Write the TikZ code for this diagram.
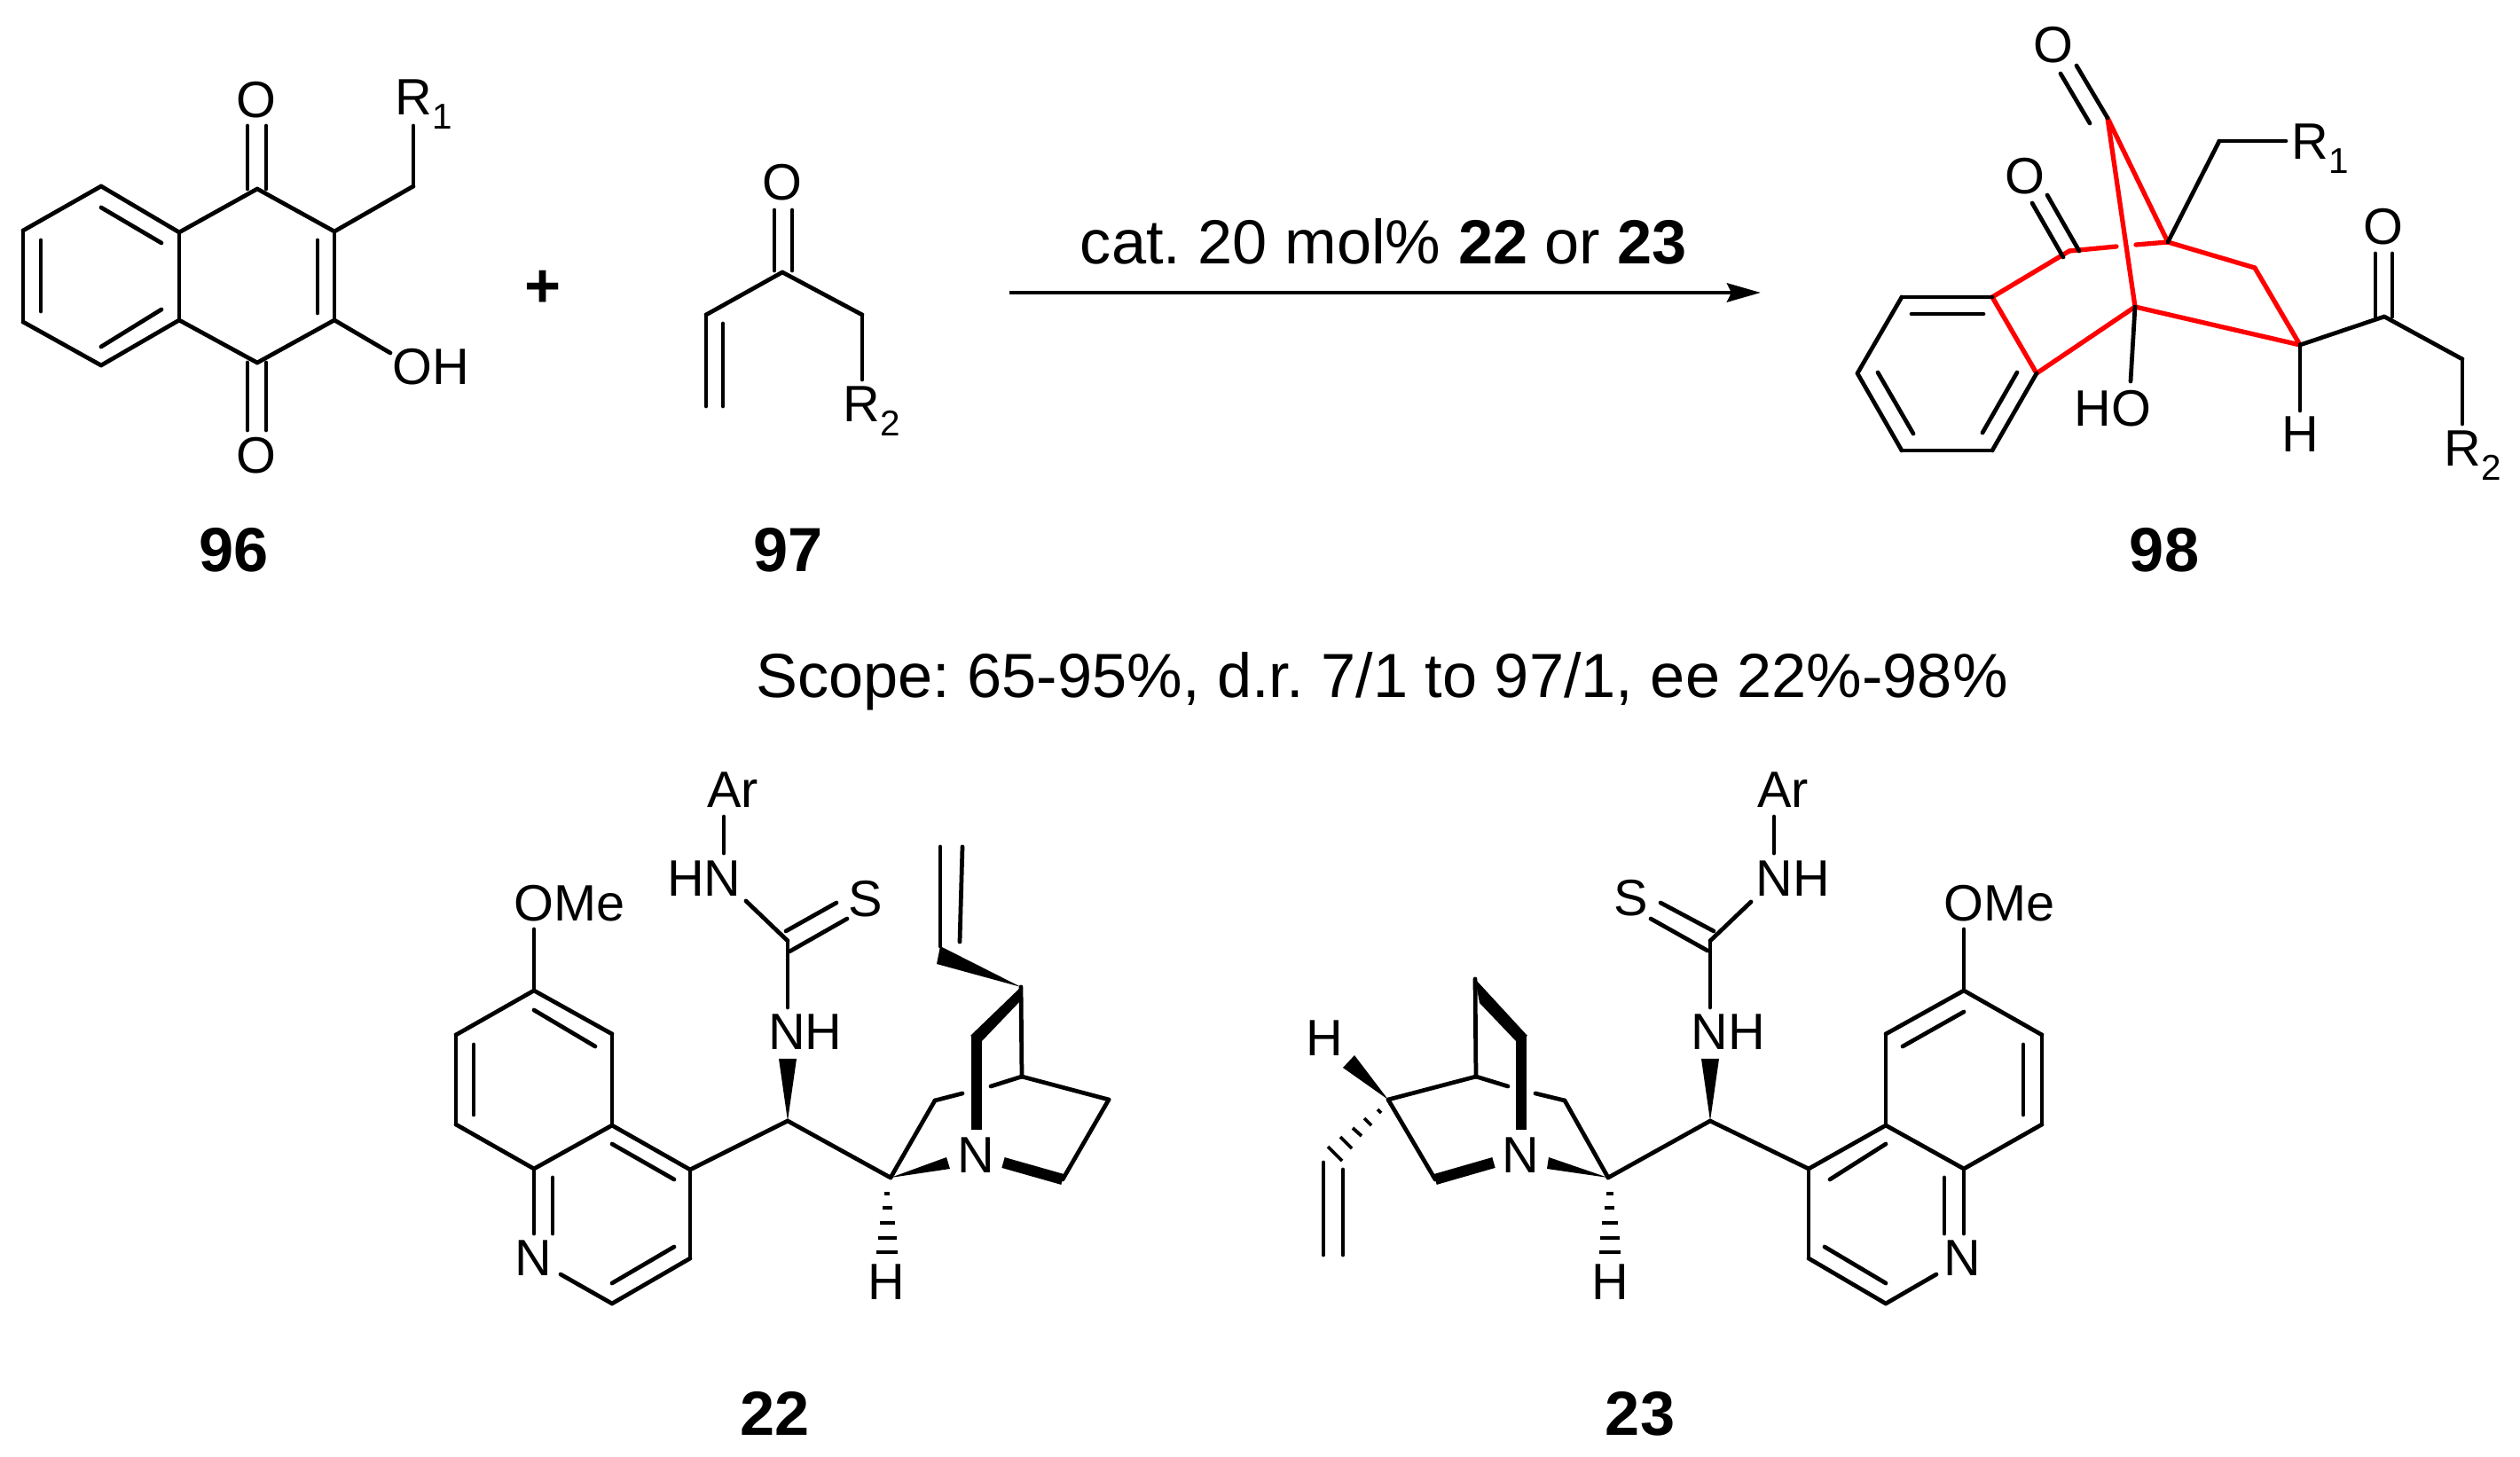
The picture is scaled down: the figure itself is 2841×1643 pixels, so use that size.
\documentclass[tikz,border=0pt]{standalone}
\usepackage{fontspec}
\setmainfont{Liberation Sans}
\frenchspacing
\usetikzlibrary{arrows.meta}
\tikzset{
	atom/.style={inner sep=1pt,font=\fontsize{16.4pt}{18pt}\selectfont},
	rlabel/.style={atom,inner sep=0pt,anchor=base west},
	cmpd/.style={inner sep=1pt,font=\fontsize{20pt}{22pt}\selectfont\bfseries},
	plain/.style={inner sep=1pt,font=\fontsize{20pt}{22pt}\selectfont},
	bond/.style={draw=black,line width=1.35pt,line cap=round,line join=round},
	redbond/.style={draw=red,line width=1.5pt,line cap=round,line join=round},
	boldbond/.style={draw=black,line width=3.5pt},
	wedge/.style={fill=black,draw=none},
	hash/.style={draw=black,line width=1.1pt},
}
\newcommand{\subs}[1]{\raisebox{-4.3pt}{\fontsize{11.5pt}{12pt}\selectfont #1}}

\begin{document}
\begin{tikzpicture}[x=0.01cm,y=-0.01cm]
	\useasboundingbox (0,0) rectangle (2841,1643);
	% 96
	\coordinate (a1) at (26,260); \coordinate (a2) at (114,210); \coordinate (a3) at (202,262);
	\coordinate (a4) at (202,361); \coordinate (a5) at (114,412); \coordinate (a6) at (26,363);
	\coordinate (a7) at (290,213); \coordinate (a8) at (377,261); \coordinate (a9) at (377,361);
	\coordinate (a10) at (290,409); \coordinate (a11) at (466,210); \coordinate (a12) at (466,142);
	\coordinate (a13) at (440,398);
	\coordinate (i1) at (46,271); \coordinate (i2) at (46,351);
	\coordinate (i3) at (114,234); \coordinate (i4) at (182,274);
	\coordinate (i5) at (114,391); \coordinate (i6) at (182,349);
	\coordinate (i7) at (358,271); \coordinate (i8) at (358,353);
	\coordinate (o1) at (279,142); \coordinate (o2) at (279,213);
	\coordinate (o3) at (300,142); \coordinate (o4) at (300,213);
	\coordinate (o5) at (279,409); \coordinate (o6) at (279,485);
	\coordinate (o7) at (300,409); \coordinate (o8) at (300,485);
	\fill (289,113) node[atom] (Oa) {O};
	\fill (289,514) node[atom] (Ob) {O};
	\fill (445,130) node[rlabel] (Ra) {R\subs{1}};
	\fill (486,414) node[atom] (OHa) {OH};
	\fill (264,620) node[cmpd] (L96) {96};
	\fill (612,326) node[cmpd] (plus) {+};
	%
	\path (a1) edge[bond] (a2);
	\path (a2) edge[bond] (a3);
	\path (a3) edge[bond] (a4);
	\path (a4) edge[bond] (a5);
	\path (a5) edge[bond] (a6);
	\path (a6) edge[bond] (a1);
	\path (a3) edge[bond] (a7);
	\path (a7) edge[bond] (a8);
	\path (a8) edge[bond] (a9);
	\path (a9) edge[bond] (a10);
	\path (a10) edge[bond] (a4);
	\path (a8) edge[bond] (a11);
	\path (a11) edge[bond] (a12);
	\path (a9) edge[bond] (a13);
	\path (i1) edge[bond] (i2);
	\path (i3) edge[bond] (i4);
	\path (i5) edge[bond] (i6);
	\path (i7) edge[bond] (i8);
	\path (o1) edge[bond] (o2);
	\path (o3) edge[bond] (o4);
	\path (o5) edge[bond] (o6);
	\path (o7) edge[bond] (o8);
	% 97
	\coordinate (b1) at (882,307); \coordinate (b2) at (796,355); \coordinate (b3) at (972,355);
	\coordinate (b4) at (972,428); \coordinate (b5) at (796,458); \coordinate (b6) at (815,365);
	\coordinate (b7) at (815,458);
	\coordinate (o9) at (873,237); \coordinate (o10) at (873,305);
	\coordinate (o11) at (893,237); \coordinate (o12) at (893,305);
	\fill (882,206) node[atom] (Oc) {O};
	\fill (950,476) node[rlabel] (Rb) {R\subs{2}};
	\fill (889,620) node[cmpd] (L97) {97};
	%
	\path (b1) edge[bond] (b2);
	\path (b1) edge[bond] (b3);
	\path (b3) edge[bond] (b4);
	\path (b2) edge[bond] (b5);
	\path (b6) edge[bond] (b7);
	\path (o9) edge[bond] (o10);
	\path (o11) edge[bond] (o12);
	% arrow
	\coordinate (s1) at (1138,330); \coordinate (s2) at (1985,330);
	\fill (1560,272) node[plain] (cat) {cat. 20 mol\% \textbf{22} or \textbf{23}};
	\path (s1) edge[draw=black,line width=1.4pt,-{Stealth[length=10.8pt,width=6pt,inset=1.4pt]}] (s2);
	\fill (1558,768) node[plain] (scope) {Scope: 65-95\%, d.r. 7/1 to 97/1, ee 22\%-98\%};
	% 98
	\coordinate (c1) at (2376,133); \coordinate (c2) at (2444,273); \coordinate (c3) at (2407,346);
	\coordinate (c4) at (2408,276); \coordinate (c5) at (2386,278); \coordinate (c6) at (2333,283);
	\coordinate (c7) at (2246,335); \coordinate (c8) at (2542,302); \coordinate (c9) at (2593,389);
	\coordinate (c10) at (2296,421); \coordinate (c11) at (2144,335); \coordinate (c12) at (2094,421);
	\coordinate (c13) at (2144,508); \coordinate (c14) at (2246,508);
	\coordinate (c15) at (2502,159); \coordinate (c16) at (2577,159);
	\coordinate (c17) at (2402,430); \coordinate (c18) at (2593,463);
	\coordinate (c19) at (2688,357); \coordinate (c20) at (2776,405); \coordinate (c21) at (2776,478);
	\coordinate (j1) at (2155,354); \coordinate (j2) at (2236,354);
	\coordinate (j3) at (2117,420); \coordinate (j4) at (2157,489);
	\coordinate (j5) at (2274,420); \coordinate (j6) at (2235,488);
	\coordinate (o13) at (2341,74); \coordinate (o14) at (2376,133);
	\coordinate (o15) at (2323,83); \coordinate (o16) at (2356,139);
	\coordinate (o17) at (2308,220); \coordinate (o18) at (2344,283);
	\coordinate (o19) at (2291,229); \coordinate (o20) at (2326,290);
	\coordinate (o21) at (2678,286); \coordinate (o22) at (2678,357);
	\coordinate (o23) at (2697,286); \coordinate (o24) at (2697,357);
	\fill (2315,51) node[atom] (Od) {O};
	\fill (2283,199) node[atom] (Oe) {O};
	\fill (2687,256) node[atom] (Of) {O};
	\fill (2583,180) node[rlabel] (Rc) {R\subs{1}};
	\fill (2755,526) node[rlabel] (Rd) {R\subs{2}};
	\fill (2382,461) node[atom] (HOa) {HO};
	\fill (2593,490) node[atom] (Ha) {H};
	\fill (2440,620) node[cmpd] (L98) {98};
	%
	\path (c1) edge[redbond] (c2);
	\path (c1) edge[redbond] (c3);
	\path (c2) edge[redbond] (c4);
	\path (c5) edge[redbond] (c6);
	\path (c6) edge[redbond] (c7);
	\path (c7) edge[redbond] (c10);
	\path (c10) edge[redbond] (c3);
	\path (c3) edge[redbond] (c9);
	\path (c2) edge[redbond] (c8);
	\path (c8) edge[redbond] (c9);
	%
	\path (c11) edge[bond] (c7);
	\path (c11) edge[bond] (c12);
	\path (c12) edge[bond] (c13);
	\path (c13) edge[bond] (c14);
	\path (c14) edge[bond] (c10);
	\path (j1) edge[bond] (j2);
	\path (j3) edge[bond] (j4);
	\path (j5) edge[bond] (j6);
	\path (c2) edge[bond] (c15);
	\path (c15) edge[bond] (c16);
	\path (c3) edge[bond] (c17);
	\path (c9) edge[bond] (c18);
	\path (c9) edge[bond] (c19);
	\path (c19) edge[bond] (c20);
	\path (c20) edge[bond] (c21);
	\path (o13) edge[bond] (o14);
	\path (o15) edge[bond] (o16);
	\path (o17) edge[bond] (o18);
	\path (o19) edge[bond] (o20);
	\path (o21) edge[bond] (o22);
	\path (o23) edge[bond] (o24);
	% 22
	\coordinate (d1) at (602,1117); \coordinate (d2) at (690,1166); \coordinate (d3) at (690,1269);
	\coordinate (d4) at (602,1318); \coordinate (d5) at (514,1268); \coordinate (d6) at (514,1167);
	\coordinate (d7) at (778,1319); \coordinate (d8) at (778,1419); \coordinate (d9) at (690,1470);
	\coordinate (d10) at (632,1437); \coordinate (d11) at (602,1391); \coordinate (d12) at (602,1048);
	\coordinate (k1) at (602,1139); \coordinate (k2) at (671,1180);
	\coordinate (k3) at (534,1178); \coordinate (k4) at (534,1257);
	\coordinate (k5) at (623,1328); \coordinate (k6) at (623,1391);
	\coordinate (k7) at (690,1290); \coordinate (k8) at (760,1330);
	\coordinate (k9) at (690,1447); \coordinate (k10) at (760,1406);
	\coordinate (e1) at (888,1264); \coordinate (e2) at (878,1194); \coordinate (e3) at (898,1194);
	\coordinate (e4) at (888,1136); \coordinate (e5) at (888,1061);
	\coordinate (e6) at (886,1050); \coordinate (e7) at (943,1018);
	\coordinate (e8) at (890,1073); \coordinate (e9) at (955,1036);
	\coordinate (e10) at (841,1016); \coordinate (e11) at (816,962); \coordinate (e12) at (816,921);
	\coordinate (f1) at (1004,1328); \coordinate (f2) at (1067,1305); \coordinate (f3) at (1071,1318);
	\coordinate (f4) at (1054,1241); \coordinate (f5) at (1085,1233); \coordinate (f6) at (1117,1225);
	\coordinate (f7) at (1152,1214); \coordinate (f8) at (1250,1240); \coordinate (f9) at (1198,1330);
	\coordinate (f10) at (1131,1311); \coordinate (f11) at (1101,1168); \coordinate (f12) at (1101,1274);
	\coordinate (f13) at (1151,1113); \coordinate (f14) at (1094,1168); \coordinate (f15) at (1107,1174);
	\coordinate (f16) at (1151,1128);
	\coordinate (f17) at (1060,1067); \coordinate (f18) at (1056,1087);
	\coordinate (f19) at (1060,955); \coordinate (f20) at (1085,955); \coordinate (f21) at (1082,1062);
	\fill (642,1019) node[atom] (OMea) {OMe};
	\fill (601,1419) node[atom] (Na) {N};
	\fill (908,1164) node[atom] (NHa) {NH};
	\fill (794,991) node[atom] (HNa) {HN};
	\fill (826,891) node[atom] (Ara) {Ar};
	\fill (976,1014) node[atom] (Sa) {S};
	\fill (1100,1303) node[atom] (Nb) {N};
	\fill (999,1446) node[atom] (Hb) {H};
	\fill (874,1594) node[cmpd] (L22) {22};
	%
	\path (d1) edge[bond] (d2);
	\path (d2) edge[bond] (d3);
	\path (d3) edge[bond] (d4);
	\path (d4) edge[bond] (d5);
	\path (d5) edge[bond] (d6);
	\path (d6) edge[bond] (d1);
	\path (d3) edge[bond] (d7);
	\path (d7) edge[bond] (d8);
	\path (d8) edge[bond] (d9);
	\path (d9) edge[bond] (d10);
	\path (d4) edge[bond] (d11);
	\path (d1) edge[bond] (d12);
	\path (k1) edge[bond] (k2);
	\path (k3) edge[bond] (k4);
	\path (k5) edge[bond] (k6);
	\path (k7) edge[bond] (k8);
	\path (k9) edge[bond] (k10);
	\path (d7) edge[bond] (e1);
	\path (e1) edge[bond] (f1);
	\path (e4) edge[bond] (e5);
	\path (e6) edge[bond] (e7);
	\path (e8) edge[bond] (e9);
	\path (e5) edge[bond] (e10);
	\path (e11) edge[bond] (e12);
	\path (f1) edge[bond] (f4);
	\path (f4) edge[bond] (f5);
	\path (f6) edge[bond] (f7);
	\path (f7) edge[bond] (f8);
	\path (f8) edge[bond] (f9);
	\path (f13) edge[bond] (f7);
	\path (f17) edge[bond] (f19);
	\path (f20) edge[bond] (f21);
	\path (f9) edge[boldbond] (f10);
	\path (f11) edge[boldbond] (f12);
	%
	\fill[wedge] (e1) -- (e2) -- (e3) -- cycle;
	\fill[wedge] (f1) -- (f2) -- (f3) -- cycle;
	\fill[wedge] (f13) -- (f14) -- (f15) -- (f16) -- cycle;
	\fill[wedge] (f13) -- (f17) -- (f18) -- cycle;
	\draw[hash] (997,1346) -- (1003,1346);
	\draw[hash] (995,1362) -- (1006,1362);
	\draw[hash] (992,1379) -- (1009,1379);
	\draw[hash] (990,1396) -- (1011,1396);
	\draw[hash] (988,1412) -- (1012,1412);
	% 23
	\coordinate (g1) at (2214,1117); \coordinate (g2) at (2126,1166); \coordinate (g3) at (2126,1269);
	\coordinate (g4) at (2214,1318); \coordinate (g5) at (2302,1268); \coordinate (g6) at (2302,1167);
	\coordinate (g7) at (2039,1318); \coordinate (g8) at (2039,1419); \coordinate (g9) at (2126,1470);
	\coordinate (g10) at (2183,1437); \coordinate (g11) at (2214,1391); \coordinate (g12) at (2214,1048);
	\coordinate (m1) at (2214,1141); \coordinate (m2) at (2145,1180);
	\coordinate (m3) at (2281,1178); \coordinate (m4) at (2281,1257);
	\coordinate (m5) at (2192,1328); \coordinate (m6) at (2192,1391);
	\coordinate (m7) at (2126,1290); \coordinate (m8) at (2063,1330);
	\coordinate (m9) at (2126,1447); \coordinate (m10) at (2057,1406);
	\coordinate (n1) at (1928,1264); \coordinate (n2) at (1918,1194); \coordinate (n3) at (1938,1194);
	\coordinate (n4) at (1928,1136); \coordinate (n5) at (1928,1061);
	\coordinate (n6) at (1932,1050); \coordinate (n7) at (1872,1018);
	\coordinate (n8) at (1925,1072); \coordinate (n9) at (1861,1036);
	\coordinate (n10) at (1974,1017); \coordinate (n11) at (2000,962); \coordinate (n12) at (2000,921);
	\coordinate (q1) at (1813,1328); \coordinate (q2) at (1746,1305); \coordinate (q3) at (1744,1318);
	\coordinate (q4) at (1764,1241); \coordinate (q5) at (1731,1233); \coordinate (q6) at (1700,1225);
	\coordinate (q7) at (1664,1214); \coordinate (q8) at (1565,1240); \coordinate (q9) at (1618,1330);
	\coordinate (q10) at (1684,1311); \coordinate (q11) at (1715,1168); \coordinate (q12) at (1715,1274);
	\coordinate (q13) at (1663,1104); \coordinate (q14) at (1709,1174); \coordinate (q15) at (1722,1168);
	\coordinate (q16) at (1668,1131);
	\coordinate (q17) at (1514,1204); \coordinate (q18) at (1527,1190);
	\coordinate (q19) at (1492,1311); \coordinate (q20) at (1492,1415);
	\coordinate (q21) at (1514,1319); \coordinate (q22) at (1514,1415);
	\fill (2254,1019) node[atom] (OMeb) {OMe};
	\fill (2212,1419) node[atom] (Nc) {N};
	\fill (1948,1164) node[atom] (NHb) {NH};
	\fill (2021,991) node[atom] (NHc) {NH};
	\fill (2010,891) node[atom] (Arb) {Ar};
	\fill (1839,1013) node[atom] (Sb) {S};
	\fill (1714,1303) node[atom] (Nd) {N};
	\fill (1815,1446) node[atom] (Hc) {H};
	\fill (1493,1171) node[atom] (Hd) {H};
	\fill (1849,1594) node[cmpd] (L23) {23};
	%
	\path (g1) edge[bond] (g2);
	\path (g2) edge[bond] (g3);
	\path (g3) edge[bond] (g4);
	\path (g4) edge[bond] (g5);
	\path (g5) edge[bond] (g6);
	\path (g6) edge[bond] (g1);
	\path (g3) edge[bond] (g7);
	\path (g7) edge[bond] (g8);
	\path (g8) edge[bond] (g9);
	\path (g9) edge[bond] (g10);
	\path (g4) edge[bond] (g11);
	\path (g1) edge[bond] (g12);
	\path (m1) edge[bond] (m2);
	\path (m3) edge[bond] (m4);
	\path (m5) edge[bond] (m6);
	\path (m7) edge[bond] (m8);
	\path (m9) edge[bond] (m10);
	\path (g7) edge[bond] (n1);
	\path (n1) edge[bond] (q1);
	\path (n4) edge[bond] (n5);
	\path (n6) edge[bond] (n7);
	\path (n8) edge[bond] (n9);
	\path (n5) edge[bond] (n10);
	\path (n11) edge[bond] (n12);
	\path (q1) edge[bond] (q4);
	\path (q4) edge[bond] (q5);
	\path (q6) edge[bond] (q7);
	\path (q7) edge[bond] (q8);
	\path (q8) edge[bond] (q9);
	\path (q13) edge[bond] (q7);
	\path (q19) edge[bond] (q20);
	\path (q21) edge[bond] (q22);
	\path (q9) edge[boldbond] (q10);
	\path (q11) edge[boldbond] (q12);
	%
	\fill[wedge] (n1) -- (n2) -- (n3) -- cycle;
	\fill[wedge] (q1) -- (q2) -- (q3) -- cycle;
	\fill[wedge] (q13) -- (q15) -- (q14) -- (q16) -- cycle;
	\fill[wedge] (q8) -- (q17) -- (q18) -- cycle;
	\draw[hash] (1811,1346) -- (1819,1346);
	\draw[hash] (1809,1362) -- (1820,1362);
	\draw[hash] (1806,1379) -- (1824,1379);
	\draw[hash] (1804,1396) -- (1826,1396);
	\draw[hash] (1803,1412) -- (1827,1412);
	\draw[hash] (1553,1251) -- (1557,1255);
	\draw[hash] (1538,1261) -- (1546,1269);
	\draw[hash] (1525,1272) -- (1535,1281);
	\draw[hash] (1511,1282) -- (1524,1295);
	\draw[hash] (1497,1293) -- (1513,1309);
	%
\end{tikzpicture}
\end{document}
